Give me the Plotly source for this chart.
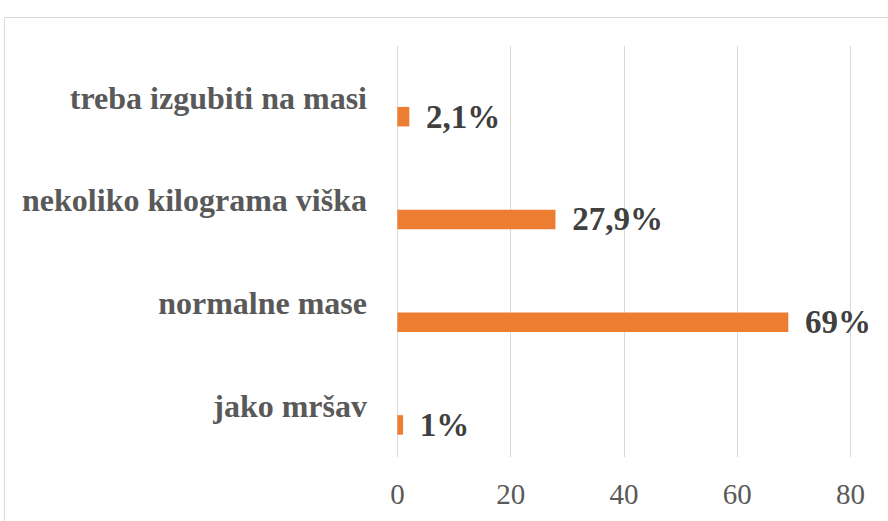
import plotly.graph_objects as go

categories = ["jako mršav", "normalne mase", "nekoliko kilograma viška", "treba izgubiti na masi"]
values = [1, 69, 27.9, 2.1]
value_labels = ["1%", "69%", "27,9%", "2,1%"]
x_ticks = [0, 20, 40, 60, 80]

W, H = 888, 521
L, R, T, B = 394, 34, 46, 64
pw, ph = W - L - R, H - T - B

SERIF = "'Times New Roman', 'Liberation Serif', Tinos, serif"

def px_x(p):
    return (p - L) / pw

def px_y(p):
    return (H - B - p) / ph

fig = go.Figure()
fig.add_trace(go.Bar(
    y=categories, x=values, orientation="h",
    marker=dict(color="#ED7D31", line=dict(width=0)),
    width=0.19, offset=-0.283,
    text=["\u00a0\u2006<b>" + t + "</b>" for t in value_labels],
    textposition="outside", constraintext="none", cliponaxis=False,
    textfont=dict(family=SERIF, size=33, color="#404040"),
    hoverinfo="skip",
))

fig.update_layout(
    width=W, height=H,
    margin=dict(l=L, r=R, t=T, b=B, autoexpand=False),
    paper_bgcolor="white", plot_bgcolor="white",
    showlegend=False,
    xaxis=dict(
        range=[-0.6, 80.6], tickvals=x_ticks, showgrid=True, gridcolor="#d9d9d9", gridwidth=1,
        zeroline=False, showline=False, ticks="", automargin=False,
        tickfont=dict(family=SERIF, size=29, color="#595959"),
        ticklabelstandoff=17,
    ),
    yaxis=dict(
        categoryorder="array", categoryarray=categories, range=[-0.5, 3.5],
        showgrid=False, zeroline=False, showline=False, ticks="", automargin=False,
        tickvals=categories, ticktext=["<b>" + c + "</b>" for c in categories],
        tickfont=dict(family=SERIF, size=32, color="#595959"),
        ticklabelstandoff=26,
    ),
    shapes=[dict(
        type="rect", xref="paper", yref="paper",
        x0=px_x(4.5), x1=px_x(W + 20), y0=px_y(H + 20), y1=px_y(17.5),
        line=dict(color="#d9d9d9", width=1), fillcolor="rgba(0,0,0,0)", layer="below",
    )],
)

fig.write_html(
    "out.html",
    config={"displayModeBar": False},
    post_script="document.body.style.margin='0px';document.body.style.overflow='hidden';",
)
